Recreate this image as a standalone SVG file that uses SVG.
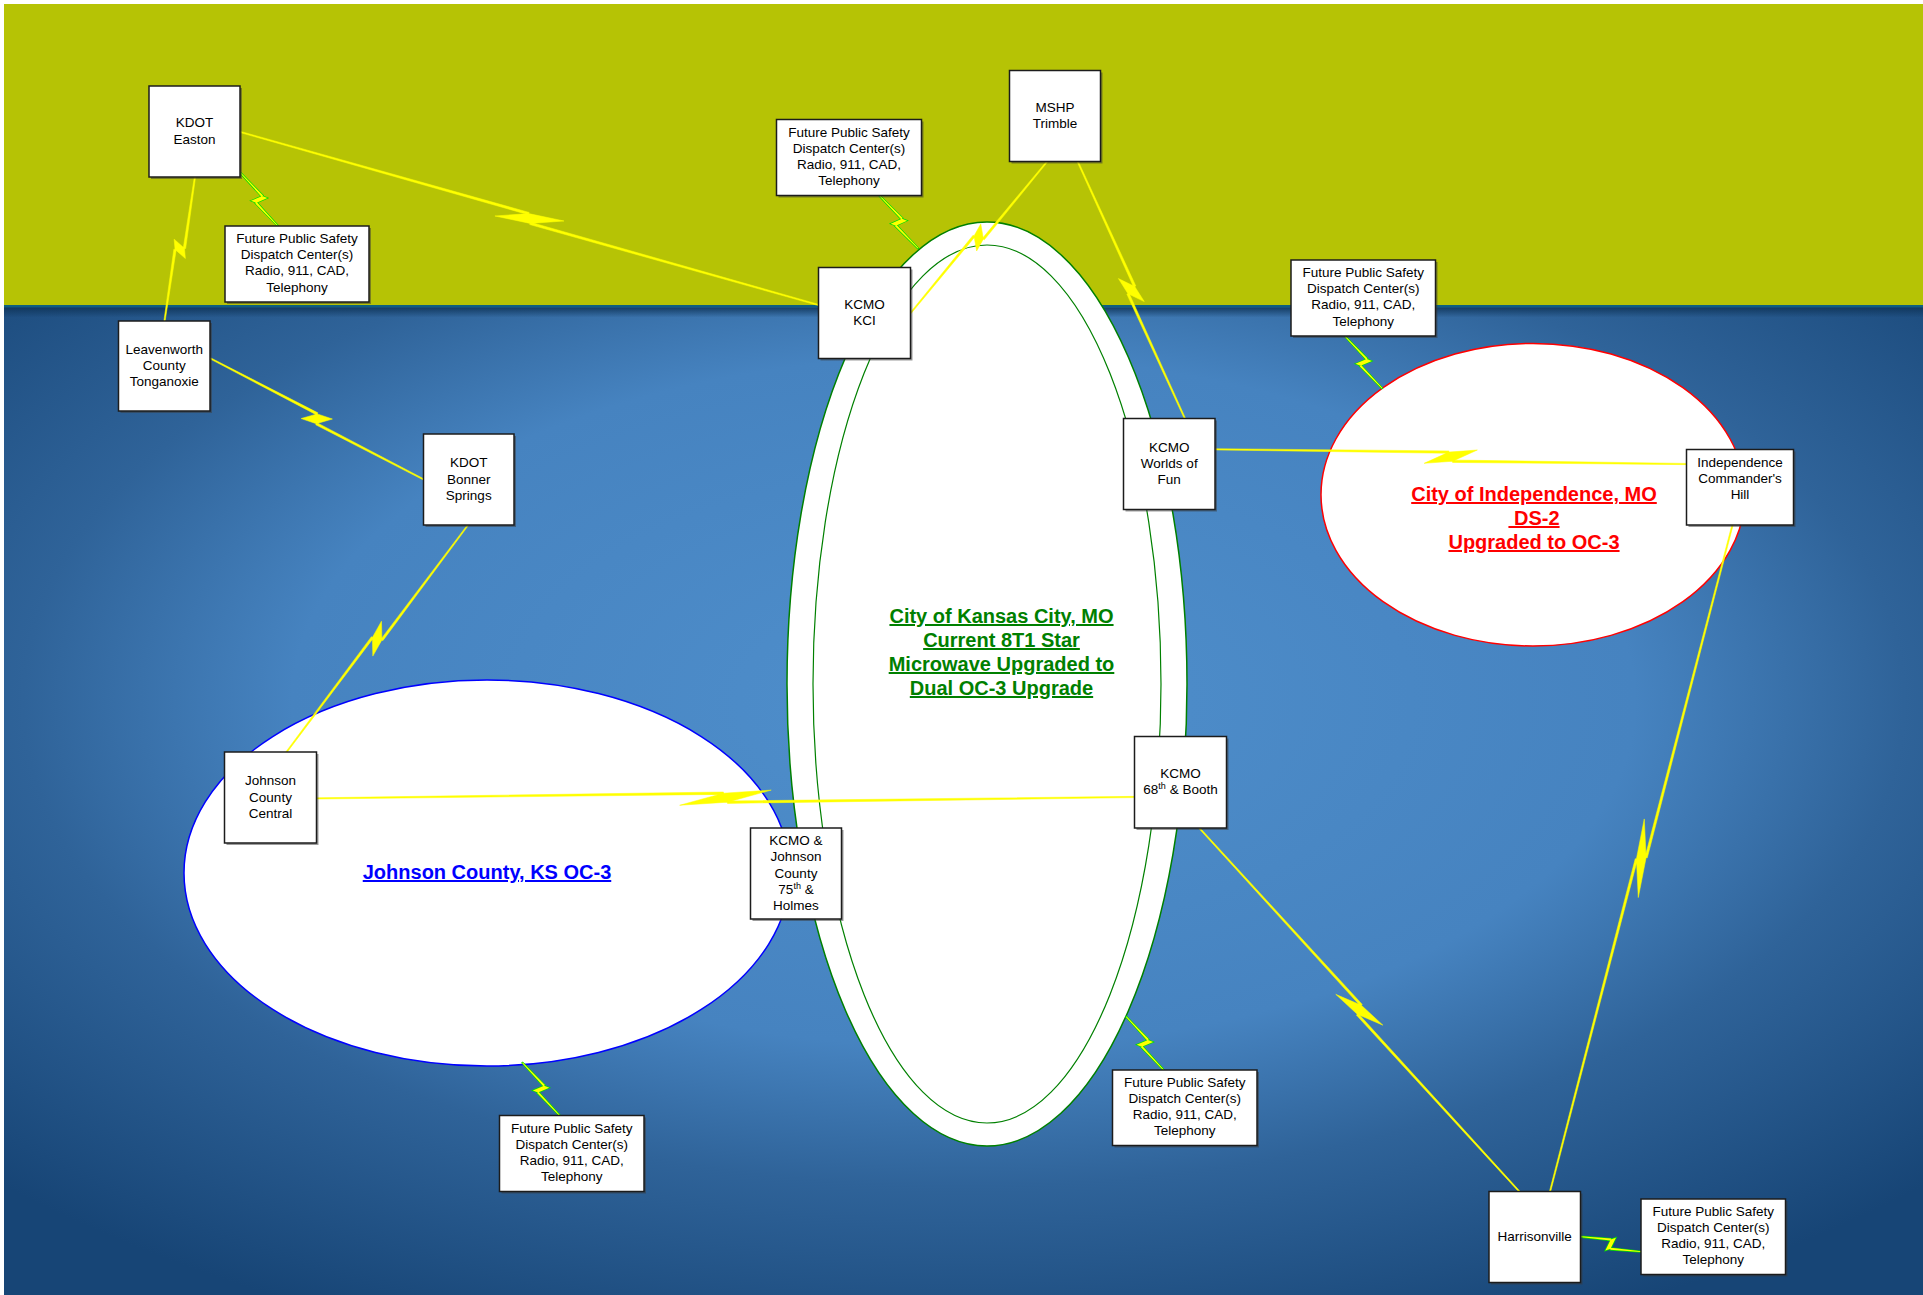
<svg xmlns="http://www.w3.org/2000/svg" width="1923" height="1295" viewBox="0 0 1923 1295">
<defs>
<radialGradient id="bg" cx="0.5" cy="0.4" r="0.7">
<stop offset="0" stop-color="#4f8fcc"/>
<stop offset="0.5" stop-color="#4683c0"/>
<stop offset="0.7" stop-color="#2f6399"/>
<stop offset="1" stop-color="#174576"/>
</radialGradient>
<linearGradient id="shade" x1="0" y1="0" x2="0" y2="1">
<stop offset="0" stop-color="#0f3458" stop-opacity="0.85"/>
<stop offset="1" stop-color="#0f3458" stop-opacity="0"/>
</linearGradient>
<style>
.box{fill:#fff;stroke:#1c1c1c;stroke-width:1.5}
.sh{fill:#3a3a3a;opacity:.5}
.t{font-family:"Liberation Sans",Arial,sans-serif;font-size:13.5px;fill:#000;text-anchor:middle}
.big{font-family:"Liberation Sans",Arial,sans-serif;font-size:20px;font-weight:bold;text-anchor:middle;text-decoration:underline}
.y{fill:#ffff00;stroke:#ffff00;stroke-width:0.5}
.g{fill:#ffff00;stroke:#00e000;stroke-width:1.4;paint-order:stroke}
</style>
</defs>
<rect width="1923" height="1295" fill="#fff"/>
<rect x="4" y="4" width="1919" height="303" fill="#b6c305"/>
<rect x="4" y="306" width="1919" height="989" fill="url(#bg)"/>
<rect x="4" y="305" width="1919" height="2.5" fill="#0e5f80"/>
<rect x="4" y="307.5" width="1919" height="10" fill="url(#shade)"/>

<g id="johnson-county-ring">
<ellipse cx="487" cy="873" rx="303" ry="193" fill="#fff" stroke="#0000ff" stroke-width="1.5"/>
<text class="big" x="487" y="879" fill="#0000ff">Johnson County, KS OC-3</text>
</g>
<g id="kansas-city-ring">
<ellipse cx="987" cy="684" rx="200" ry="462" fill="#fff" stroke="#008000" stroke-width="1.5"/>
<ellipse cx="987" cy="684" rx="174" ry="439" fill="#fff" stroke="#008000" stroke-width="1.2"/>
<text class="big" fill="#008000"><tspan x="1001.5" y="623">City of Kansas City, MO</tspan><tspan x="1001.5" y="647">Current 8T1 Star</tspan><tspan x="1001.5" y="671">Microwave Upgraded to</tspan><tspan x="1001.5" y="695">Dual OC-3 Upgrade</tspan></text>
</g>
<g id="independence-ring">
<ellipse cx="1533" cy="494.7" rx="212" ry="151.3" fill="#fff" stroke="#ff0000" stroke-width="1.5"/>
<text class="big" fill="#ff0000" xml:space="preserve" style="white-space:pre"><tspan x="1534" y="501">City of Independence, MO</tspan><tspan x="1534" y="525"> DS-2</tspan><tspan x="1534" y="549">Upgraded to OC-3</tspan></text>
</g>

<g id="connectors">
<g transform="translate(240.4,132) rotate(16.66)"><path class="y" d="M0,-0.6L299.7,-5.7L299.7,-3.3L0,0.6Z M267.9,7.5L299.7,-4.5L335.5,-7.5L303.7,4.5Z M303.7,3.3L603.4,-0.6L603.4,0.6L303.7,5.7Z"/></g>
<g transform="translate(195,176.7) rotate(101.93)"><path class="y" d="M0,-0.6L72.25,-5.7L72.25,-3.3L0,0.6Z M65.45,7.5L72.25,-4.5L82.05,-7.5L75.25,4.5Z M75.25,3.3L147.5,-0.6L147.5,0.6L75.25,5.7Z"/></g>
<g transform="translate(210.2,358.3) rotate(29.58)"><path class="y" d="M0,-0.6L120.55,-5.7L120.55,-3.3L0,0.6Z M108.85,7.5L120.55,-4.5L136.25,-7.5L124.55,4.5Z M124.55,3.3L245.1,-0.6L245.1,0.6L124.55,5.7Z"/></g>
<g transform="translate(468,525) rotate(128.64)"><path class="y" d="M0,-0.6L143.5,-5.7L143.5,-3.3L0,0.6Z M129.2,7.5L143.5,-4.5L161.8,-7.5L147.5,4.5Z M147.5,3.3L291,-0.6L291,0.6L147.5,5.7Z"/></g>
<g transform="translate(316.4,798.4) rotate(-0.1)"><path class="y" d="M0,-0.6L407.05,-5.7L407.05,-3.3L0,0.6Z M363.25,7.5L407.05,-4.5L454.85,-7.5L411.05,4.5Z M411.05,3.3L818.1,-0.6L818.1,0.6L411.05,5.7Z"/></g>
<g transform="translate(910.4,313.3) rotate(-47.98)"><path class="y" d="M0,-0.6L100.05,-5.7L100.05,-3.3L0,0.6Z M90.65,7.5L100.05,-4.5L113.45,-7.5L104.05,4.5Z M104.05,3.3L204.1,-0.6L204.1,0.6L104.05,5.7Z"/></g>
<g transform="translate(1077.8,161.7) rotate(67.36)"><path class="y" d="M0,-0.6L137.1,-5.7L137.1,-3.3L0,0.6Z M123.5,7.5L137.1,-4.5L154.7,-7.5L141.1,4.5Z M141.1,3.3L278.2,-0.6L278.2,0.6L141.1,5.7Z"/></g>
<g transform="translate(1215,449.3) rotate(1.79)"><path class="y" d="M0,-0.6L233.85,-5.7L233.85,-3.3L0,0.6Z M209.45,7.5L233.85,-4.5L262.25,-7.5L237.85,4.5Z M237.85,3.3L471.7,-0.6L471.7,0.6L237.85,5.7Z"/></g>
<g transform="translate(1732.5,525) rotate(105.31)"><path class="y" d="M0,-0.6L343.5,-5.7L343.5,-3.3L0,0.6Z M306.8,7.5L343.5,-4.5L384.2,-7.5L347.5,4.5Z M347.5,3.3L691,-0.6L691,0.6L347.5,5.7Z"/></g>
<g transform="translate(1199.3,828) rotate(48.64)"><path class="y" d="M0,-0.6L240.15,-5.7L240.15,-3.3L0,0.6Z M215.05,7.5L240.15,-4.5L269.25,-7.5L244.15,4.5Z M244.15,3.3L484.3,-0.6L484.3,0.6L244.15,5.7Z"/></g>

<g transform="translate(240.8,173.3) rotate(54.92)"><path class="g" d="M0,-0.4L31,-5.5L31,-3.5L0,0.4Z M28.4,7.5L31,-4.5L35.6,-7.5L33,4.5Z M33,3.5L64,-0.4L64,0.4L33,5.5Z"/></g>
<g transform="translate(879.8,196) rotate(53.86)"><path class="g" d="M0,-0.4L31.4,-5.5L31.4,-3.5L0,0.4Z M28.8,7.5L31.4,-4.5L36,-7.5L33.4,4.5Z M33.4,3.5L64.8,-0.4L64.8,0.4L33.4,5.5Z"/></g>
<g transform="translate(1345.2,336.5) rotate(54.53)"><path class="g" d="M0,-0.4L30.8,-5.5L30.8,-3.5L0,0.4Z M28.2,7.5L30.8,-4.5L35.4,-7.5L32.8,4.5Z M32.8,3.5L63.6,-0.4L63.6,0.4L32.8,5.5Z"/></g>
<g transform="translate(1126.3,1016.7) rotate(55.02)"><path class="g" d="M0,-0.4L31.5,-5.5L31.5,-3.5L0,0.4Z M28.9,7.5L31.5,-4.5L36.1,-7.5L33.5,4.5Z M33.5,3.5L65,-0.4L65,0.4L33.5,5.5Z"/></g>
<g transform="translate(522.4,1062.7) rotate(54.76)"><path class="g" d="M0,-0.4L31.3,-5.5L31.3,-3.5L0,0.4Z M28.7,7.5L31.3,-4.5L35.9,-7.5L33.3,4.5Z M33.3,3.5L64.6,-0.4L64.6,0.4L33.3,5.5Z"/></g>
<g transform="translate(1580.3,1236.7) rotate(13.88)"><path class="g" d="M0,-0.4L30.25,-5.5L30.25,-3.5L0,0.4Z M27.65,7.5L30.25,-4.5L34.85,-7.5L32.25,4.5Z M32.25,3.5L62.5,-0.4L62.5,0.4L32.25,5.5Z"/></g>
</g>

<g id="kdot-easton"><rect class="sh" x="151" y="88" width="91" height="91"/><rect class="box" x="149" y="86" width="91" height="91"/><text class="t"><tspan x="194.5" y="127.4">KDOT</tspan><tspan x="194.5" dy="16.2">Easton</tspan></text></g>
<g id="future-1"><rect class="sh" x="227" y="228" width="144" height="76"/><rect class="box" x="225" y="226" width="144" height="76"/><text class="t"><tspan x="297" y="243">Future Public Safety</tspan><tspan x="297" dy="16.2">Dispatch Center(s)</tspan><tspan x="297" dy="16.2">Radio, 911, CAD,</tspan><tspan x="297" dy="16.2">Telephony</tspan></text></g>
<g id="leavenworth"><rect class="sh" x="120.5" y="323" width="91.5" height="90"/><rect class="box" x="118.5" y="321" width="91.5" height="90"/><text class="t"><tspan x="164.25" y="353.8">Leavenworth</tspan><tspan x="164.25" dy="16.2">County</tspan><tspan x="164.25" dy="16.2">Tonganoxie</tspan></text></g>
<g id="kdot-bonner"><rect class="sh" x="425.5" y="436" width="90.5" height="91"/><rect class="box" x="423.5" y="434" width="90.5" height="91"/><text class="t"><tspan x="468.75" y="467.3">KDOT</tspan><tspan x="468.75" dy="16.2">Bonner</tspan><tspan x="468.75" dy="16.2">Springs</tspan></text></g>
<g id="johnson-central"><rect class="sh" x="226.5" y="754" width="92" height="91"/><rect class="box" x="224.5" y="752" width="92" height="91"/><text class="t"><tspan x="270.5" y="785.3">Johnson</tspan><tspan x="270.5" dy="16.2">County</tspan><tspan x="270.5" dy="16.2">Central</tspan></text></g>
<g id="kcmo-75th"><rect class="sh" x="752.5" y="830" width="91" height="91"/><rect class="box" x="750.5" y="828" width="91" height="91"/><text class="t"><tspan x="796" y="845.1">KCMO &amp;</tspan><tspan x="796" dy="16.2">Johnson</tspan><tspan x="796" dy="16.2">County</tspan><tspan x="796" dy="16.2">75<tspan font-size="9" dy="-5">th</tspan><tspan dy="5"> &amp;</tspan></tspan><tspan x="796" dy="16.2">Holmes</tspan></text></g>
<g id="kcmo-kci"><rect class="sh" x="820.5" y="269.5" width="92" height="91"/><rect class="box" x="818.5" y="267.5" width="92" height="91"/><text class="t"><tspan x="864.5" y="308.9">KCMO</tspan><tspan x="864.5" dy="16.2">KCI</tspan></text></g>
<g id="future-2"><rect class="sh" x="778.5" y="121.5" width="145" height="76"/><rect class="box" x="776.5" y="119.5" width="145" height="76"/><text class="t"><tspan x="849" y="136.5">Future Public Safety</tspan><tspan x="849" dy="16.2">Dispatch Center(s)</tspan><tspan x="849" dy="16.2">Radio, 911, CAD,</tspan><tspan x="849" dy="16.2">Telephony</tspan></text></g>
<g id="mshp-trimble"><rect class="sh" x="1011.5" y="72.5" width="91" height="91"/><rect class="box" x="1009.5" y="70.5" width="91" height="91"/><text class="t"><tspan x="1055" y="111.9">MSHP</tspan><tspan x="1055" dy="16.2">Trimble</tspan></text></g>
<g id="future-3"><rect class="sh" x="1293" y="262" width="144.5" height="76"/><rect class="box" x="1291" y="260" width="144.5" height="76"/><text class="t"><tspan x="1363.25" y="277">Future Public Safety</tspan><tspan x="1363.25" dy="16.2">Dispatch Center(s)</tspan><tspan x="1363.25" dy="16.2">Radio, 911, CAD,</tspan><tspan x="1363.25" dy="16.2">Telephony</tspan></text></g>
<g id="kcmo-worlds-of-fun"><rect class="sh" x="1125.5" y="420.5" width="91.5" height="91"/><rect class="box" x="1123.5" y="418.5" width="91.5" height="91"/><text class="t"><tspan x="1169.25" y="451.8">KCMO</tspan><tspan x="1169.25" dy="16.2">Worlds of</tspan><tspan x="1169.25" dy="16.2">Fun</tspan></text></g>
<g id="independence-commanders-hill"><rect class="sh" x="1688.5" y="451.5" width="107" height="75.5"/><rect class="box" x="1686.5" y="449.5" width="107" height="75.5"/><text class="t"><tspan x="1740" y="466.5">Independence</tspan><tspan x="1740" dy="16.2">Commander's</tspan><tspan x="1740" dy="16.2">Hill</tspan></text></g>
<g id="kcmo-68th-booth"><rect class="sh" x="1136.5" y="738.5" width="92" height="91.5"/><rect class="box" x="1134.5" y="736.5" width="92" height="91.5"/><text class="t"><tspan x="1180.5" y="777.5">KCMO</tspan><tspan x="1180.5" dy="16.2">68<tspan font-size="9" dy="-5">th</tspan><tspan dy="5"> &amp; Booth</tspan></tspan></text></g>
<g id="future-4"><rect class="sh" x="1114.5" y="1072" width="144.5" height="75.5"/><rect class="box" x="1112.5" y="1070" width="144.5" height="75.5"/><text class="t"><tspan x="1184.75" y="1086.8">Future Public Safety</tspan><tspan x="1184.75" dy="16.2">Dispatch Center(s)</tspan><tspan x="1184.75" dy="16.2">Radio, 911, CAD,</tspan><tspan x="1184.75" dy="16.2">Telephony</tspan></text></g>
<g id="future-5"><rect class="sh" x="501.5" y="1117.5" width="144.5" height="76"/><rect class="box" x="499.5" y="1115.5" width="144.5" height="76"/><text class="t"><tspan x="571.75" y="1132.5">Future Public Safety</tspan><tspan x="571.75" dy="16.2">Dispatch Center(s)</tspan><tspan x="571.75" dy="16.2">Radio, 911, CAD,</tspan><tspan x="571.75" dy="16.2">Telephony</tspan></text></g>
<g id="harrisonville"><rect class="sh" x="1491" y="1193.5" width="91.5" height="91"/><rect class="box" x="1489" y="1191.5" width="91.5" height="91"/><text class="t" x="1534.75" y="1241">Harrisonville</text></g>
<g id="future-6"><rect class="sh" x="1643" y="1201" width="144.5" height="75.5"/><rect class="box" x="1641" y="1199" width="144.5" height="75.5"/><text class="t"><tspan x="1713.25" y="1215.8">Future Public Safety</tspan><tspan x="1713.25" dy="16.2">Dispatch Center(s)</tspan><tspan x="1713.25" dy="16.2">Radio, 911, CAD,</tspan><tspan x="1713.25" dy="16.2">Telephony</tspan></text></g>
</svg>
